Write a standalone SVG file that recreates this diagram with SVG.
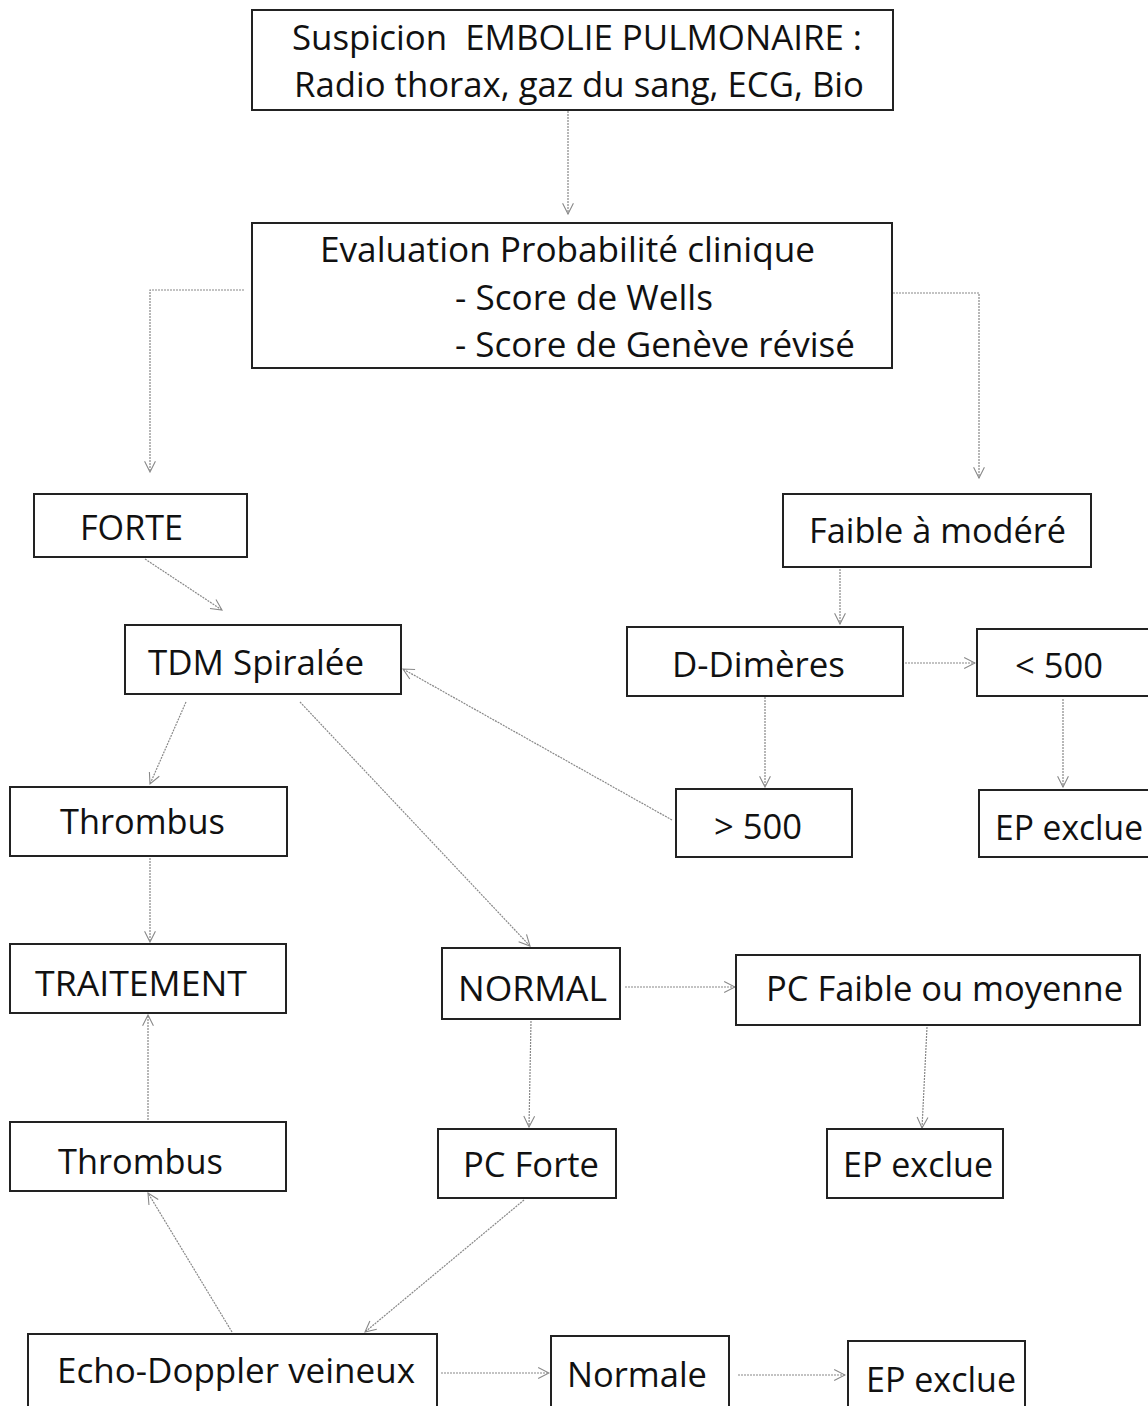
<svg xmlns="http://www.w3.org/2000/svg" width="1148" height="1406" viewBox="0 0 1148 1406">
<defs>
<marker id="arr" viewBox="0 0 12 12" refX="11" refY="6" markerWidth="13" markerHeight="13" markerUnits="userSpaceOnUse" orient="auto">
<path d="M1,1 L11,6 L1,11" fill="none" stroke="#888" stroke-width="1"/>
</marker>
<style>
.box{fill:#fff;stroke:#222;stroke-width:2}
.t{font-family:"Open Sans","Liberation Sans",sans-serif;font-size:35px;fill:#111}
.c{fill:none;stroke:#888;stroke-width:1.2;stroke-dasharray:2 1;marker-end:url(#arr)}
</style>
</defs>
<rect width="1148" height="1406" fill="#fff"/>
<g id="connectors">
<path class="c" d="M568,111 L568,214"/>
<path class="c" d="M244,290 L150,290 L150,472"/>
<path class="c" d="M893,293 L979,293 L979,478"/>
<path class="c" d="M145,559 L222,610"/>
<path class="c" d="M840,569 L840,624"/>
<path class="c" d="M905,663 L975,663"/>
<path class="c" d="M765,697 L765,787"/>
<path class="c" d="M1063,699 L1063,787"/>
<path class="c" d="M672,820 L403,669"/>
<path class="c" d="M186,702 L150,784"/>
<path class="c" d="M300,702 L530,946"/>
<path class="c" d="M150,858 L150,942"/>
<path class="c" d="M625,987 L735,987"/>
<path class="c" d="M531,1021 L529,1127"/>
<path class="c" d="M927,1027 L922,1128"/>
<path class="c" d="M148,1120 L148,1015"/>
<path class="c" d="M232,1332 L148,1193"/>
<path class="c" d="M524,1200 L365,1332"/>
<path class="c" d="M441,1373 L549,1373"/>
<path class="c" d="M738,1375 L845,1375"/>
</g>
<g id="n1"><rect class="box" x="252" y="10" width="641" height="100"/>
<text class="t" x="292" y="50" textLength="570" lengthAdjust="spacingAndGlyphs" xml:space="preserve">Suspicion  EMBOLIE PULMONAIRE :</text>
<text class="t" x="294" y="97" textLength="570" lengthAdjust="spacingAndGlyphs">Radio thorax, gaz du sang, ECG, Bio</text></g>
<g id="n2"><rect class="box" x="252" y="223" width="640" height="145"/>
<text class="t" x="320" y="262" textLength="495" lengthAdjust="spacingAndGlyphs">Evaluation Probabilité clinique</text>
<text class="t" x="455" y="310" textLength="258" lengthAdjust="spacingAndGlyphs">- Score de Wells</text>
<text class="t" x="455" y="357" textLength="400" lengthAdjust="spacingAndGlyphs">- Score de Genève révisé</text></g>
<g id="n3"><rect class="box" x="34" y="494" width="213" height="63"/>
<text class="t" x="80" y="540" textLength="103" lengthAdjust="spacingAndGlyphs">FORTE</text></g>
<g id="n4"><rect class="box" x="783" y="494" width="308" height="73"/>
<text class="t" x="809" y="543" textLength="257" lengthAdjust="spacingAndGlyphs">Faible à modéré</text></g>
<g id="n5"><rect class="box" x="125" y="625" width="276" height="69"/>
<text class="t" x="148" y="675" textLength="216" lengthAdjust="spacingAndGlyphs">TDM Spiralée</text></g>
<g id="n6"><rect class="box" x="627" y="627" width="276" height="69"/>
<text class="t" x="672" y="677" textLength="173" lengthAdjust="spacingAndGlyphs">D-Dimères</text></g>
<g id="n7"><rect class="box" x="977" y="629" width="180" height="67"/>
<text class="t" x="1015" y="678" textLength="88" lengthAdjust="spacingAndGlyphs">&lt; 500</text></g>
<g id="n8"><rect class="box" x="10" y="787" width="277" height="69"/>
<text class="t" x="60" y="834" textLength="165" lengthAdjust="spacingAndGlyphs">Thrombus</text></g>
<g id="n9"><rect class="box" x="676" y="789" width="176" height="68"/>
<text class="t" x="714" y="839" textLength="88" lengthAdjust="spacingAndGlyphs">&gt; 500</text></g>
<g id="n10"><rect class="box" x="979" y="790" width="180" height="67"/>
<text class="t" x="995" y="840" textLength="148" lengthAdjust="spacingAndGlyphs">EP exclue</text></g>
<g id="n11"><rect class="box" x="10" y="944" width="276" height="69"/>
<text class="t" x="35" y="996" textLength="212" lengthAdjust="spacingAndGlyphs">TRAITEMENT</text></g>
<g id="n12"><rect class="box" x="442" y="948" width="178" height="71"/>
<text class="t" x="458" y="1001" textLength="149" lengthAdjust="spacingAndGlyphs">NORMAL</text></g>
<g id="n13"><rect class="box" x="736" y="955" width="404" height="70"/>
<text class="t" x="766" y="1001" textLength="357" lengthAdjust="spacingAndGlyphs">PC Faible ou moyenne</text></g>
<g id="n14"><rect class="box" x="10" y="1122" width="276" height="69"/>
<text class="t" x="58" y="1174" textLength="165" lengthAdjust="spacingAndGlyphs">Thrombus</text></g>
<g id="n15"><rect class="box" x="438" y="1129" width="178" height="69"/>
<text class="t" x="463" y="1177" textLength="136" lengthAdjust="spacingAndGlyphs">PC Forte</text></g>
<g id="n16"><rect class="box" x="827" y="1129" width="176" height="69"/>
<text class="t" x="843" y="1177" textLength="150" lengthAdjust="spacingAndGlyphs">EP exclue</text></g>
<g id="n17"><rect class="box" x="28" y="1334" width="409" height="75"/>
<text class="t" x="57" y="1383" textLength="358" lengthAdjust="spacingAndGlyphs">Echo-Doppler veineux</text></g>
<g id="n18"><rect class="box" x="551" y="1336" width="178" height="75"/>
<text class="t" x="567" y="1387" textLength="140" lengthAdjust="spacingAndGlyphs">Normale</text></g>
<g id="n19"><rect class="box" x="848" y="1341" width="177" height="70"/>
<text class="t" x="866" y="1392" textLength="150" lengthAdjust="spacingAndGlyphs">EP exclue</text></g>
</svg>
